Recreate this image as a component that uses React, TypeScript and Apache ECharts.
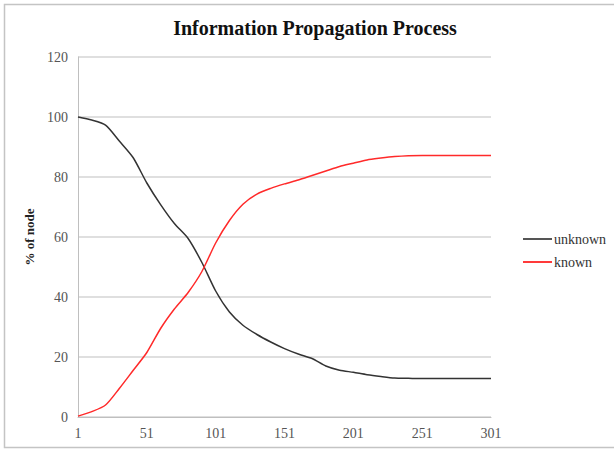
import React, { useEffect, useRef } from "react";
import * as echarts from "echarts";

const titleText = "Information Propagation Process";
const yAxisName = "% of node";
const seriesNames = ["unknown", "known"];
const steps = [1, 11, 21, 31, 41, 51, 61, 71, 81, 91, 101, 111, 121, 131, 141, 151, 161, 171, 181, 191, 201, 211, 221, 231, 241, 251, 261, 271, 281, 291, 301];
const unknownValues = [100, 99, 97.3, 92, 86.5, 78, 70.8, 64.5, 59.5, 51.5, 42, 35, 30.5, 27.5, 25, 22.8, 21, 19.5, 17, 15.6, 14.9, 14.1, 13.5, 13, 12.9, 12.8, 12.8, 12.8, 12.8, 12.8, 12.8];
const knownValues = [0.3, 1.8, 4, 9.5, 15.5, 21.5, 29.5, 36, 41.5, 48.5, 58, 65.5, 71, 74.3, 76.2, 77.7, 79, 80.5, 82, 83.5, 84.6, 85.7, 86.3, 86.8, 87.1, 87.2, 87.2, 87.2, 87.2, 87.2, 87.2];
const xTickLabels = [1, 51, 101, 151, 201, 251, 301];
const yTicks = { min: 0, max: 120, interval: 20 };

const FONT = "'Liberation Serif', 'Times New Roman', serif";

export default function App() {
  const ref = useRef<HTMLDivElement>(null);
  useEffect(() => {
    if (!ref.current) return;
    const chart = echarts.init(ref.current, null, { renderer: "svg" });
    const pair = (vals: number[]) => steps.map((s, i) => [s, vals[i]]);
    chart.setOption({
      animation: false,
      backgroundColor: "#ffffff",
      textStyle: { fontFamily: FONT },
      graphic: [
        {
          type: "rect",
          shape: { x: 4.5, y: 4.5, width: 640, height: 443 },
          style: { fill: "none", stroke: "#c4c4c4", lineWidth: 1.5 },
          silent: true,
        },
        {
          type: "text",
          x: 315,
          y: 28,
          style: {
            text: titleText,
            textAlign: "center",
            textVerticalAlign: "middle",
            fontFamily: FONT,
            fontWeight: "bold",
            fontSize: 20,
            fill: "#111111",
          },
        },
      ],
      grid: { left: 78, right: 123, top: 57, bottom: 32, containLabel: false },
      legend: {
        orient: "vertical",
        left: 518,
        top: 227,
        icon: "rect",
        itemWidth: 29,
        itemHeight: 2,
        itemGap: 9,
        data: seriesNames,
        textStyle: { fontFamily: FONT, fontSize: 14, color: "#333333", padding: [0, 0, 0, -3], lineHeight: 14 },
      },
      xAxis: {
        type: "value",
        min: 1,
        max: 301,
        axisLine: { show: true, lineStyle: { color: "#bfbfbf", width: 1 } },
        axisTick: { show: false },
        splitLine: { show: false },
        axisLabel: {
          customValues: xTickLabels,
          fontFamily: FONT,
          fontSize: 14,
          color: "#555555",
          margin: 9,
        },
      },
      yAxis: {
        type: "value",
        min: yTicks.min,
        max: yTicks.max,
        interval: yTicks.interval,
        name: yAxisName,
        nameLocation: "middle",
        nameRotate: 90,
        nameGap: 40,
        nameTextStyle: { fontFamily: FONT, fontWeight: "bold", fontSize: 13, color: "#222222" },
        axisLine: { show: true, lineStyle: { color: "#bfbfbf", width: 1 } },
        axisTick: { show: false },
        splitLine: { show: true, lineStyle: { color: "#d4d4d4", width: 1.5 } },
        axisLabel: { fontFamily: FONT, fontSize: 14, color: "#555555", margin: 10 },
      },
      series: [
        {
          name: seriesNames[0],
          type: "line",
          data: pair(unknownValues),
          smooth: 0.25,
          showSymbol: false,
          symbol: "none",
          lineStyle: { color: "#333333", width: 1.5 },
          itemStyle: { color: "#555555" },
        },
        {
          name: seriesNames[1],
          type: "line",
          data: pair(knownValues),
          smooth: 0.25,
          showSymbol: false,
          symbol: "none",
          lineStyle: { color: "#ff2a2a", width: 1.5 },
          itemStyle: { color: "#ff3a3a" },
        },
      ],
    });
    return () => chart.dispose();
  }, []);
  return <div ref={ref} style={{ position: "fixed", left: 0, top: 0, width: 614, height: 449 }} />;
}
